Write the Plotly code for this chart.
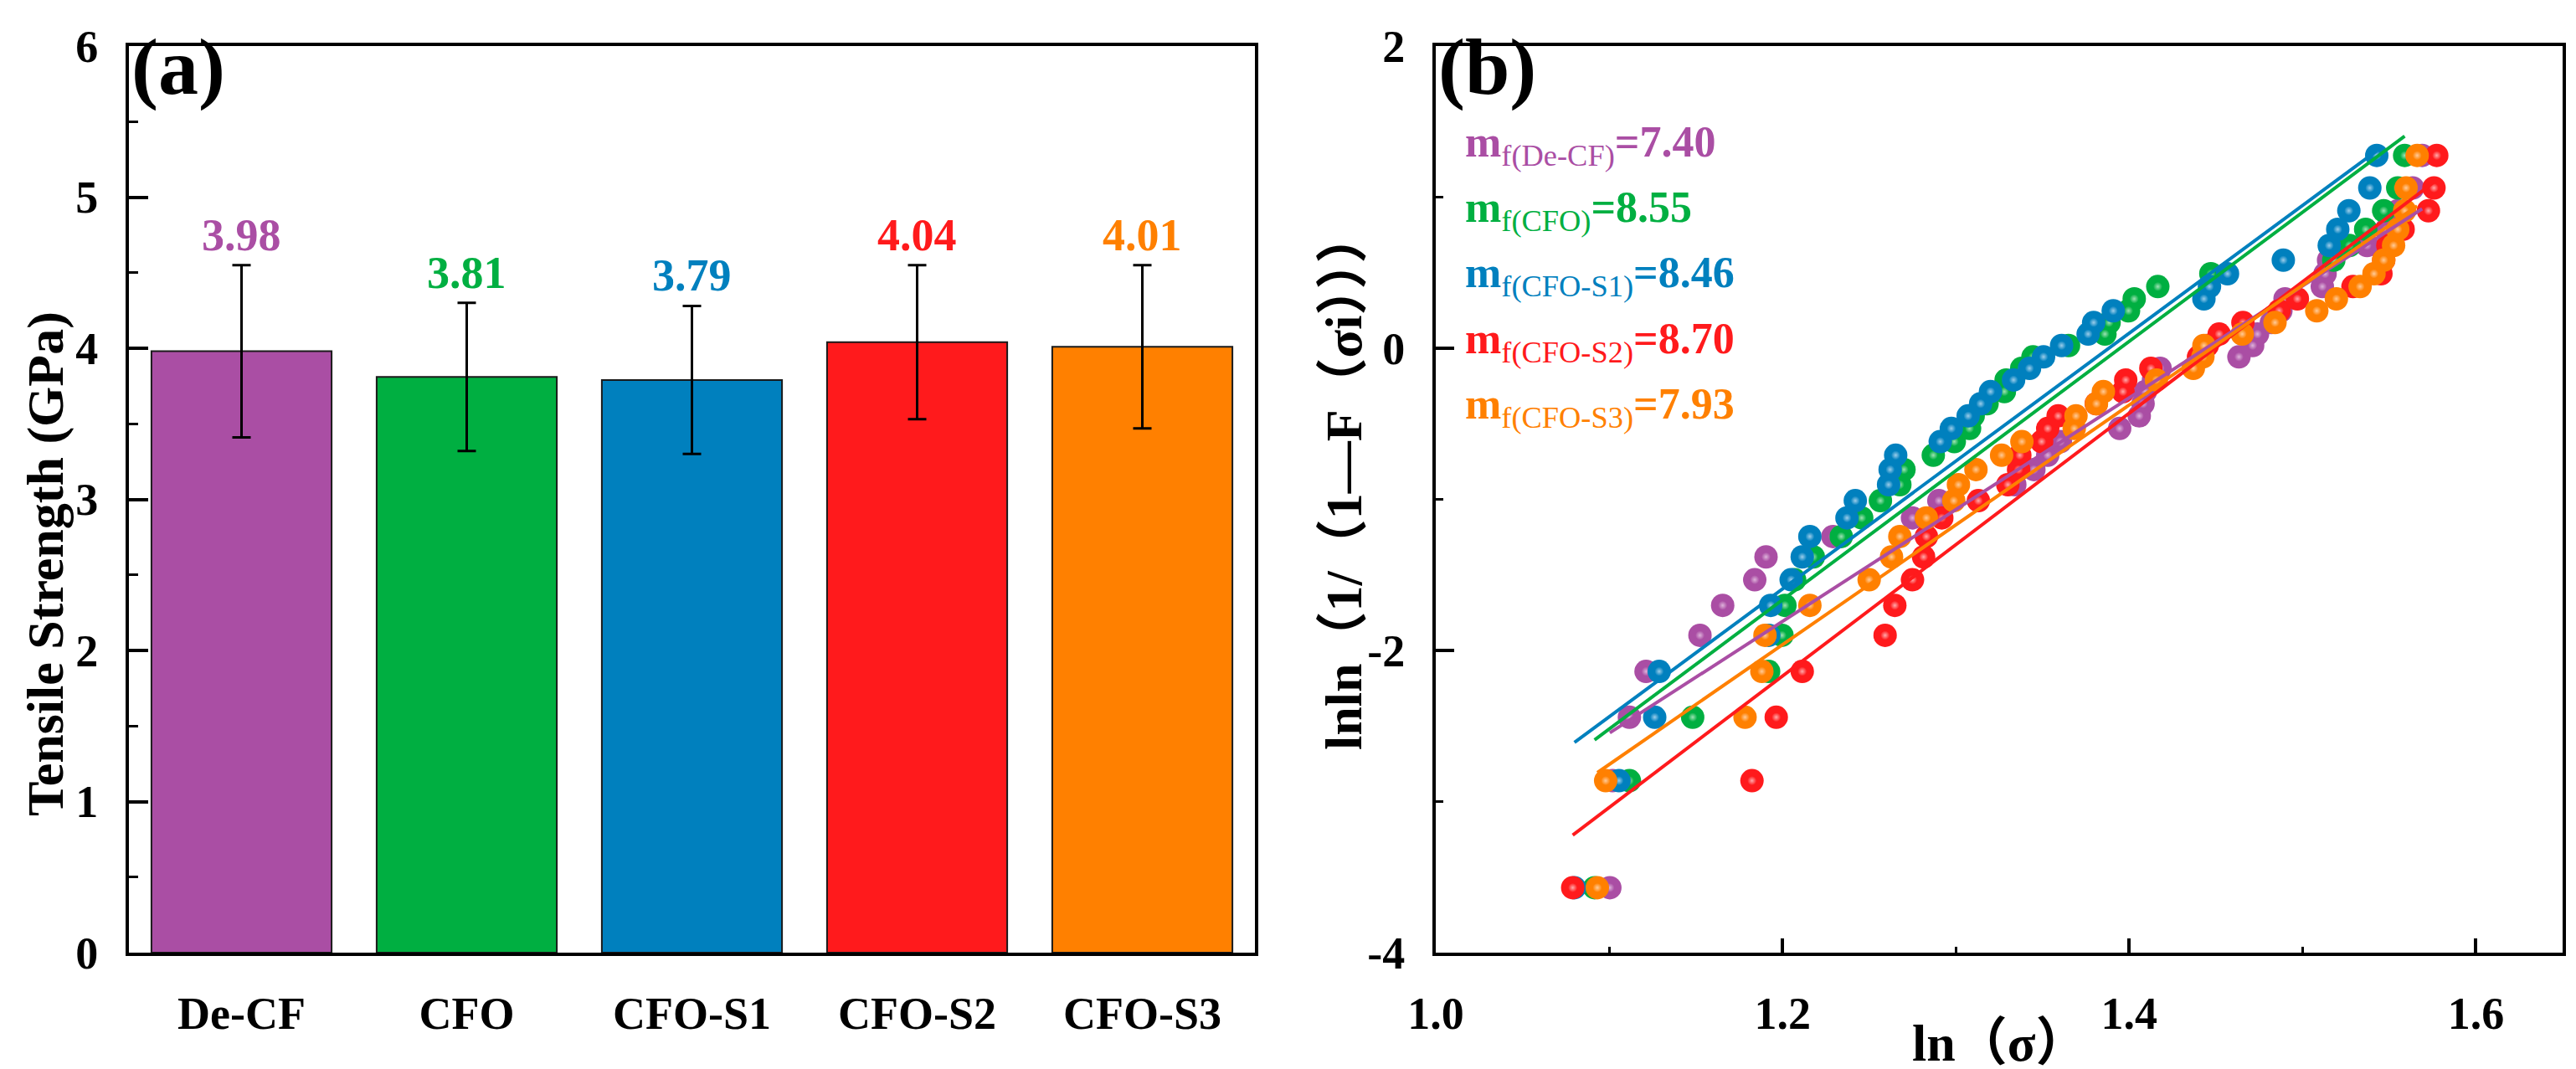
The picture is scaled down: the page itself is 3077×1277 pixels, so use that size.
import numpy as np
import plotly.graph_objects as go

# ---------------- data: panel (a) ----------------
categories = ["De-CF", "CFO", "CFO-S1", "CFO-S2", "CFO-S3"]
strength = [3.98, 3.81, 3.79, 4.04, 4.01]
strength_err = [0.57, 0.49, 0.49, 0.51, 0.54]
value_labels = ["3.98", "3.81", "3.79", "4.04", "4.01"]
colors = ["#AA4EA4", "#00AF41", "#0080BE", "#FF1A1C", "#FF8000"]
highlight_tints = ["#DDB3DA", "#9EE2B4", "#9CCDEA", "#FFAAAB", "#FFCB99"]

# ---------------- data: panel (b) ----------------
weibull_y = [-3.570, -2.862, -2.442, -2.139, -1.900, -1.702, -1.532, -1.381, -1.246,
             -1.123, -1.009, -0.903, -0.803, -0.708, -0.618, -0.531, -0.448, -0.367,
             -0.287, -0.210, -0.133, -0.057, 0.018, 0.094, 0.170, 0.248, 0.327,
             0.408, 0.493, 0.583, 0.680, 0.787, 0.910, 1.061, 1.276]

ln_sigma_decf = [1.1004, 1.1020, 1.1117, 1.1213, 1.1524, 1.1655, 1.1840, 1.1905, 1.2291,
                 1.2750, 1.2902, 1.3340, 1.3450, 1.3530, 1.3603, 1.3945, 1.4058, 1.4080,
                 1.4093, 1.4140, 1.4178, 1.4633, 1.4712, 1.4740, 1.4820, 1.4875, 1.4899,
                 1.5114, 1.5130, 1.5150, 1.5372, 1.5484, 1.5550, 1.5635, 1.5690]
ln_sigma_cfo = [1.0916, 1.1117, 1.1482, 1.1920, 1.1997, 1.2014, 1.2070, 1.2178, 1.2339,
                1.2457, 1.2565, 1.2677, 1.2701, 1.2870, 1.2991, 1.3079, 1.3100, 1.3180,
                1.3280, 1.3290, 1.3380, 1.3445, 1.3650, 1.3860, 1.3884, 1.3996, 1.4029,
                1.4165, 1.4471, 1.5180, 1.5270, 1.5364, 1.5468, 1.5549, 1.5589]
ln_sigma_s1 = [1.0800, 1.1057, 1.1263, 1.1289, 1.1921, 1.1932, 1.2050, 1.2114, 1.2158,
               1.2372, 1.2420, 1.2612, 1.2621, 1.2653, 1.2910, 1.2974, 1.3071, 1.3143,
               1.3200, 1.3333, 1.3425, 1.3506, 1.3610, 1.3763, 1.3795, 1.3908, 1.4431,
               1.4463, 1.4567, 1.4889, 1.5154, 1.5203, 1.5267, 1.5388, 1.5428]
ln_sigma_s2 = [1.0790, 1.1824, 1.1964, 1.2114, 1.2592, 1.2648, 1.2750, 1.2814, 1.2830,
               1.2919, 1.3130, 1.3300, 1.3362, 1.3369, 1.3495, 1.3530, 1.3590, 1.3810,
               1.3964, 1.3980, 1.4125, 1.4400, 1.4450, 1.4519, 1.4656, 1.4865, 1.4970,
               1.5291, 1.5452, 1.5468, 1.5492, 1.5580, 1.5726, 1.5758, 1.5774]
ln_sigma_s3 = [1.0932, 1.0980, 1.1784, 1.1881, 1.1899, 1.2158, 1.2500, 1.2629, 1.2677,
               1.2830, 1.2988, 1.3015, 1.3116, 1.3264, 1.3381, 1.3683, 1.3693, 1.3811,
               1.3851, 1.4157, 1.4370, 1.4425, 1.4431, 1.4652, 1.4841, 1.5082, 1.5195,
               1.5332, 1.5412, 1.5468, 1.5525, 1.5549, 1.5589, 1.5597, 1.5661]

weibull_slopes = [7.40, 8.55, 8.46, 8.70, 7.93]
weibull_intercepts = [-10.688, -11.925, -11.745, -12.61, -11.478]
modulus_labels = ["7.40", "8.55", "8.46", "8.70", "7.93"]
series_names = ["De-CF", "CFO", "CFO-S1", "CFO-S2", "CFO-S3"]

x2_tickvals = [1.0, 1.2, 1.4, 1.6]
x2_ticktext = ["1.0", "1.2", "1.4", "1.6"]
y2_tickvals = [-4, -2, 0, 2]
y2_ticktext = ["-4", "-2", "0", "2"]

series_x = [ln_sigma_decf, ln_sigma_cfo, ln_sigma_s1, ln_sigma_s2, ln_sigma_s3]

# ---------------- geometry ----------------
W, H = 3077, 1277
def px_x(p):
    return p / W
def px_y(p):
    return 1 - p / H

dom_ya = [px_y(1130), px_y(47)]
dom_xa = [px_x(146), px_x(1491)]
dom_xb = [px_x(1707), px_x(3053)]

FONT = "Liberation Serif, Times New Roman, Noto Sans CJK SC, serif"

fig = go.Figure()

fig.add_trace(go.Bar(
    x=categories, y=strength, width=0.8,
    marker=dict(color=colors, line=dict(color="#1a1a1a", width=2)),
    error_y=dict(type="data", array=strength_err, thickness=3, width=11, color="black"),
    xaxis="x", yaxis="y", showlegend=False,
))

# sphere-like markers: solid ball + soft highlight, series drawn in order
for xs, c, t, n in zip(series_x, colors, highlight_tints, series_names):
    fig.add_trace(go.Scatter(
        x=xs, y=weibull_y, mode="markers", name=n,
        marker=dict(size=28, color=c, line=dict(width=0)),
        xaxis="x2", yaxis="y2", showlegend=False, hoverinfo="skip",
    ))
    fig.add_trace(go.Scatter(
        x=xs, y=weibull_y, mode="markers", name=n + " highlight",
        marker=dict(size=11, color=c, line=dict(width=0),
                    gradient=dict(type="radial", color=t)),
        xaxis="x2", yaxis="y2", showlegend=False, hoverinfo="skip",
    ))

for xs, c, m, b in zip(series_x, colors, weibull_slopes, weibull_intercepts):
    lx = np.array([min(xs), max(xs)])
    fig.add_trace(go.Scatter(
        x=lx, y=m * lx + b, mode="lines",
        line=dict(color=c, width=4),
        xaxis="x2", yaxis="y2", showlegend=False,
    ))

annotations = []
for cat, v, e, lab, c in zip(categories, strength, strength_err, value_labels, colors):
    annotations.append(dict(
        x=cat, y=v + e + 0.2, xref="x", yref="y", text=f"<b>{lab}</b>",
        showarrow=False, font=dict(family=FONT, size=54, color=c),
        xanchor="center", yanchor="middle"))

for k, (n, lab, c) in enumerate(zip(series_names, modulus_labels, colors)):
    annotations.append(dict(
        x=px_x(1740), y=px_y(165 + 78.4 * k), xref="paper", yref="paper",
        text=f"<b>m</b><sub>f({n})</sub><b>={lab}</b>",
        showarrow=False, font=dict(family=FONT, size=52, color=c),
        xanchor="left", yanchor="middle"))

annotations += [
    dict(x=px_x(147), y=px_y(16), xref="paper", yref="paper", text="<b>(a)</b>",
         showarrow=False, font=dict(family=FONT, size=96, color="black"),
         xanchor="left", yanchor="top"),
    dict(x=px_x(1708), y=px_y(16), xref="paper", yref="paper", text="<b>(b)</b>",
         showarrow=False, font=dict(family=FONT, size=96, color="black"),
         xanchor="left", yanchor="top"),
    dict(x=px_x(46), y=px_y(666), xref="paper", yref="paper",
         text="<b>Tensile Strength (GPa)</b>", textangle=-90,
         showarrow=False, font=dict(family=FONT, size=62, color="black"),
         xanchor="center", yanchor="middle"),
    dict(x=px_x(1597), y=px_y(567), xref="paper", yref="paper",
         text="<b>lnln（1/（1—F（σi）））</b>", textangle=-90,
         showarrow=False, font=dict(family=FONT, size=62, color="black"),
         xanchor="center", yanchor="middle"),
    dict(x=px_x(2380), y=px_y(1238), xref="paper", yref="paper",
         text="<b>ln（σ）</b>",
         showarrow=False, font=dict(family=FONT, size=62, color="black"),
         xanchor="center", yanchor="middle"),
]

tickfont = dict(family=FONT, size=54, color="black", weight="bold")
axis_common = dict(showline=True, linewidth=4, linecolor="black", mirror=True,
                   showgrid=False, zeroline=False, tickfont=tickfont,
                   tickcolor="black", automargin=False)

fig.update_layout(
    width=W, height=H, autosize=False,
    margin=dict(l=0, r=0, t=0, b=0, pad=0, autoexpand=False),
    paper_bgcolor="white", plot_bgcolor="white",
    showlegend=False,
    bargap=0.2,
    annotations=annotations,
    xaxis=dict(domain=dom_xa, range=[-0.5, 4.5], type="category", ticks="",
               anchor="y", ticklabelstandoff=22, **axis_common),
    yaxis=dict(domain=dom_ya, range=[0, 6], dtick=1, ticks="inside", ticklen=23,
               tickwidth=4, anchor="x", ticklabelstandoff=22,
               minor=dict(dtick=0.5, ticks="inside", ticklen=11, tickwidth=3,
                          tickcolor="black"),
               **axis_common),
    xaxis2=dict(domain=dom_xb, range=[1.0, 1.65], tickvals=x2_tickvals,
                ticktext=x2_ticktext, ticks="inside", ticklen=17, tickwidth=4,
                anchor="y2", ticklabelstandoff=22,
                minor=dict(tick0=1.0, dtick=0.1, ticks="inside", ticklen=7,
                           tickwidth=3, tickcolor="black"),
                **axis_common),
    yaxis2=dict(domain=dom_ya, range=[-4, 2], tickvals=y2_tickvals,
                ticktext=y2_ticktext, ticks="inside", ticklen=22, tickwidth=4,
                anchor="x2", ticklabelstandoff=22,
                minor=dict(tick0=-4, dtick=1, ticks="inside", ticklen=9,
                           tickwidth=3, tickcolor="black"),
                **axis_common),
)

fig.write_html("out.html")
